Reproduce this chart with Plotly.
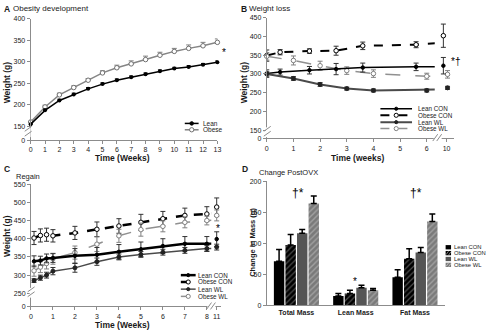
import plotly.graph_objects as go

# ---------------- data ----------------
# Panel A: obesity development
weeks_a = list(range(14))
lean_a = [155, 187, 210, 224, 237, 248, 257, 264, 271, 278, 284, 288, 293, 299]
lean_a_err = [2, 3, 3, 3, 3, 3, 3, 3, 3, 3, 3, 3, 3, 3]
obese_a = [160, 195, 223, 240, 257, 274, 286, 295, 305, 315, 324, 331, 337, 345]
obese_a_err = [3, 4, 4, 4, 4, 5, 6, 7, 8, 7, 7, 8, 8, 8]

# Panel B: weight loss (last point = week 10)
b_x_con = [0, 0.5, 1.6, 2.6, 3.6, 5.6, 10]
b_x_wl = [0, 1, 2, 3, 4, 6, 10]
b_lean_con = [301, 305, 310, 313, 317, 319, 322]
b_lean_con_err = [10, 8, 10, 15, 12, 10, 22]
b_obese_con = [349, 358, 361, 362, 375, 378, 402]
b_obese_con_err = [15, 7, 6, 12, 10, 8, 31]
b_lean_wl = [300, 288, 272, 261, 256, 256, 263]
b_lean_wl_err = [6, 5, 5, 4, 4, 4, 4]
b_obese_wl = [347, 336, 322, 309, 301, 294, 299]
b_obese_wl_err = [10, 12, 12, 10, 10, 8, 10]

# Panel C: regain (last point = week 11)
c_x = [0.14, 0.43, 0.71, 1, 2, 3, 4, 5, 6, 7, 8, 11]
c_lean_con = [338, 340, 346, 347, 353, 356, 364, 371, 380, 386, 386, 399]
c_lean_con_err = [15, 12, 12, 12, 20, 20, 20, 20, 20, 20, 20, 20]
c_obese_con = [402, 409, 411, 408, 416, 426, 435, 445, 455, 464, 468, 487]
c_obese_con_err = [18, 18, 18, 17, 18, 20, 20, 22, 20, 20, 20, 25]
c_lean_wl = [285, 293, 300, 311, 320, 337, 350, 357, 363, 368, 373, 377]
c_lean_wl_err = [5, 7, 8, 10, 12, 10, 8, 8, 8, 8, 8, 8]
c_obese_wl = [312, 322, 332, 345, 362, 385, 408, 425, 434, 445, 450, 464]
c_obese_wl_err = [15, 15, 15, 15, 18, 20, 18, 18, 15, 15, 12, 15]

# Panel D: change post OVX
d_categories = ["Total Mass", "Lean Mass", "Fat Mass"]
d_lean_con = [71, 15, 45]
d_lean_con_err = [19, 4, 12]
d_obese_con = [97, 19, 75]
d_obese_con_err = [17, 5, 16]
d_lean_wl = [116, 28, 85]
d_lean_wl_err = [6, 4, 8]
d_obese_wl = [164, 24, 135]
d_obese_wl_err = [12, 3, 12]

group_names = ["Lean CON", "Obese CON", "Lean WL", "Obese WL"]

# ---------------- helpers ----------------
W, H = 500, 331
FONT = "Liberation Sans, Arial, sans-serif"
AX = "#8c8c8c"
TXT = "#1a1a1a"


def dxd(a, b):
    return [a / W, b / W]


def dyd(top, bottom):
    return [1 - bottom / H, 1 - top / H]


annotations = []
shapes = []


def ann(text, x, y, size=8, bold=False, xanchor="left", yanchor="middle", angle=0, color=TXT):
    annotations.append(dict(
        text=f"<b>{text}</b>" if bold else text, x=x / W, y=1 - y / H,
        xref="paper", yref="paper", showarrow=False, xanchor=xanchor,
        yanchor=yanchor, textangle=angle, borderpad=0,
        font=dict(size=size, family=FONT, color=color)))


def seg(x0, y0, x1, y1, color, width=1, dash="solid"):
    shapes.append(dict(type="line", xref="paper", yref="paper",
                       x0=x0 / W, y0=1 - y0 / H, x1=x1 / W, y1=1 - y1 / H,
                       line=dict(color=color, width=width, dash=dash)))


def circ(cx, cy, r, fill, line):
    shapes.append(dict(type="circle", xref="paper", yref="paper",
                       x0=(cx - r) / W, x1=(cx + r) / W,
                       y0=1 - (cy + r) / H, y1=1 - (cy - r) / H,
                       fillcolor=fill, line=dict(color=line, width=1)))


def rect(x0, y0, x1, y1, fill):
    shapes.append(dict(type="rect", xref="paper", yref="paper",
                       x0=x0 / W, x1=x1 / W, y0=1 - y1 / H, y1=1 - y0 / H,
                       fillcolor=fill, line=dict(width=0)))


def brk_y(cx, cy):
    # "//" on a vertical axis
    rect(cx - 2, cy - 5, cx + 2, cy + 5, "white")
    seg(cx - 4, cy - 1, cx + 3, cy - 6, AX, 1)
    seg(cx - 4, cy + 4, cx + 3, cy - 1, AX, 1)


def brk_x(cx, cy):
    # "//" on a horizontal axis
    rect(cx - 4, cy - 2, cx + 4, cy + 2, "white")
    seg(cx - 5, cy + 3, cx, cy - 4, AX, 1)
    seg(cx - 1, cy + 3, cx + 4, cy - 4, AX, 1)


def axis(**kw):
    base = dict(showline=True, linecolor=AX, linewidth=1, ticks="outside",
                ticklen=3, tickwidth=1, tickcolor=AX, showgrid=False,
                zeroline=False, tickfont=dict(size=7, family=FONT, color=TXT))
    base.update(kw)
    return base


fig = go.Figure()

# ---------------- Panel A ----------------
fig.add_trace(go.Scatter(
    x=weeks_a, y=obese_a, mode="lines+markers", xaxis="x", yaxis="y",
    line=dict(color="#858585", width=1.5),
    marker=dict(symbol="circle", size=4.5, color="white", line=dict(color="#707070", width=1)),
    error_y=dict(type="data", array=obese_a_err, arrayminus=[0] * len(obese_a), symmetric=False,
                 color="#808080", thickness=1, width=2.5),
    cliponaxis=False, showlegend=False))
fig.add_trace(go.Scatter(
    x=weeks_a, y=lean_a, mode="lines+markers", xaxis="x", yaxis="y",
    line=dict(color="black", width=1.5),
    marker=dict(symbol="circle", size=4, color="black"),
    error_y=dict(type="data", array=lean_a_err, arrayminus=[0] * len(lean_a), symmetric=False,
                 color="black", thickness=1, width=2),
    cliponaxis=False, showlegend=False))

# ---------------- Panel B / C line series ----------------
styles = {
    "Lean CON": dict(lc="black", dash="solid", mfill="black", mline="black", ms=3.5),
    "Obese CON": dict(lc="black", dash="dash", mfill="white", mline="black", ms=4.5),
    "Lean WL": dict(lc="#4a4a4a", dash="solid", mfill="#222222", mline="#222222", ms=4),
    "Obese WL": dict(lc="#909090", dash="longdash", mfill="white", mline="#808080", ms=4.5),
}
width_b = {"Lean CON": 1.5, "Obese CON": 2, "Lean WL": 2, "Obese WL": 1.5}
width_c = {"Lean CON": 2.5, "Obese CON": 2.5, "Lean WL": 1.5, "Obese WL": 1.5}
dodge_b = {"Lean CON": -0.14, "Obese CON": -0.14, "Lean WL": 0.04, "Obese WL": 0.04}

b_series = [
    ("Obese CON", b_x_con, b_obese_con, b_obese_con_err),
    ("Obese WL", b_x_wl, b_obese_wl, b_obese_wl_err),
    ("Lean CON", b_x_con, b_lean_con, b_lean_con_err),
    ("Lean WL", b_x_wl, b_lean_wl, b_lean_wl_err),
]
c_series = [
    ("Obese CON", c_x, c_obese_con, c_obese_con_err),
    ("Obese WL", c_x, c_obese_wl, c_obese_wl_err),
    ("Lean CON", c_x, c_lean_con, c_lean_con_err),
    ("Lean WL", c_x, c_lean_wl, c_lean_wl_err),
]


def add_broken(series, xa_main, xa_brk, ya, widths, dodge):
    for name, xs, ys, es in series:
        st = styles[name]
        ecol = "#808080" if name == "Obese WL" else "#333333"
        # line through all points, clipped at the axis break
        fig.add_trace(go.Scatter(x=xs, y=ys, mode="lines", xaxis=xa_main, yaxis=ya,
                                 line=dict(color=st["lc"], width=widths[name], dash=st["dash"]),
                                 showlegend=False, hoverinfo="skip"))
        mk = dict(symbol="circle", size=st["ms"], color=st["mfill"],
                  line=dict(color=st["mline"], width=1))
        fig.add_trace(go.Scatter(x=xs[:-1], y=ys[:-1], mode="markers", xaxis=xa_main, yaxis=ya,
                                 marker=mk, cliponaxis=False, showlegend=False,
                                 error_y=dict(type="data", array=es[:-1], color=ecol,
                                              thickness=1, width=2.5)))
        fig.add_trace(go.Scatter(x=[xs[-1] + dodge.get(name, 0)], y=ys[-1:], mode="markers",
                                 xaxis=xa_brk, yaxis=ya, marker=mk, cliponaxis=False,
                                 showlegend=False,
                                 error_y=dict(type="data", array=es[-1:], color=ecol,
                                              thickness=1, width=2.5)))


add_broken(b_series, "x2", "x3", "y2", width_b, dodge_b)
add_broken(c_series, "x4", "x5", "y3", width_c, {})

# ---------------- Panel D ----------------
d_specs = [
    ("Lean CON", d_lean_con, d_lean_con_err, dict(color="black")),
    ("Obese CON", d_obese_con, d_obese_con_err,
     dict(color="black", pattern=dict(shape="/", fgcolor="#9a9a9a", bgcolor="black",
                                       fillmode="overlay", size=4, solidity=0.3))),
    ("Lean WL", d_lean_wl, d_lean_wl_err, dict(color="#555555")),
    ("Obese WL", d_obese_wl, d_obese_wl_err,
     dict(color="#7a7a7a", pattern=dict(shape="/", fgcolor="#c8c8c8", bgcolor="#7a7a7a",
                                         fillmode="overlay", size=4, solidity=0.35))),
]
for name, vals, errs, mk in d_specs:
    fig.add_trace(go.Bar(x=d_categories, y=vals, name=name, xaxis="x6", yaxis="y4",
                         marker=dict(line=dict(width=0), **mk), showlegend=False,
                         error_y=dict(type="data", array=errs, arrayminus=[0] * len(errs),
                                      symmetric=False, color="black", thickness=1.5, width=3)))

# ---------------- axes ----------------
fig.update_layout(
    xaxis=axis(domain=dxd(29, 218), range=[0, 13], tickvals=weeks_a, anchor="y"),
    yaxis=axis(domain=dyd(15, 139), range=[118, 400], anchor="x",
               tickvals=[118, 150, 200, 250, 300, 350, 400],
               ticktext=["0", "150", "200", "250", "300", "350", "400"]),
    xaxis2=axis(domain=dxd(268, 438), range=[0, 6.3], tickvals=[0, 1, 2, 3, 4, 5, 6], anchor="y2"),
    xaxis3=axis(domain=dxd(443, 457), range=[9.7, 10.3], tickvals=[10], anchor="y2"),
    yaxis2=axis(domain=dyd(14, 137), range=[129, 450], anchor="x2",
                tickvals=[129, 150, 200, 250, 300, 350, 400, 450],
                ticktext=["0", "150", "200", "250", "300", "350", "400", "450"]),
    xaxis4=axis(domain=dxd(29.3, 211.8), range=[0, 8.2], tickvals=list(range(9)), anchor="y3"),
    xaxis5=axis(domain=dxd(213.3, 221.3), range=[10.6, 11.4], tickvals=[11], anchor="y3"),
    yaxis3=axis(domain=dyd(184, 309), range=[214, 550], anchor="x4",
                tickvals=[214, 250, 300, 350, 400, 450, 500, 550],
                ticktext=["0", "250", "300", "350", "400", "450", "500", "550"]),
    xaxis6=axis(domain=dxd(268, 448), anchor="y4", ticks="",
                tickfont=dict(size=7, family=FONT, color=TXT, weight="bold")),
    yaxis4=axis(domain=dyd(181, 307.7), range=[0, 200], tickvals=[0, 50, 100, 150, 200], anchor="x6"),
    barmode="group", bargap=0.22, bargroupgap=0.1,
)

# ---------------- text ----------------
ann("A", 1.5, 5, 8.5, True)
ann("Obesity development", 10, 5, 8)
ann("B", 240.5, 5, 8.5, True)
ann("Weight loss", 249, 5, 8)
ann("C", 1.5, 168.5, 8.5, True)
ann("Regain", 13, 176.5, 7.5)
ann("D", 241.5, 168.5, 8.5, True)
ann("Change PostOVX", 259, 172, 7.5)

ann("Weight (g)", 5, 80, 8.5, True, "center", "middle", -90)
ann("Weight (g)", 245, 80, 8.5, True, "center", "middle", -90)
ann("Weight (g)", 5, 237, 8.5, True, "center", "middle", -90)
ann("Change in Mass (g)", 254, 243, 7.5, True, "center", "middle", -90)
ann("Time (Weeks)", 122, 157, 8.5, True, "center", "middle")
ann("Time (weeks)", 360, 157, 8.5, True, "center", "middle")
ann("Time (Weeks)", 122, 327.5, 8.5, True, "center", "middle")

ann("*", 225, 50, 10, False, "center", "middle", 0, "black")
ann("*†", 459, 59, 10, False, "center", "middle", 0, "black")
ann("*", 219, 229, 10, False, "center", "middle", 0, "black")
ann("†*", 300, 193, 12, False, "center", "middle", 0, "black")
ann("*", 357, 284, 10, False, "center", "middle", 0, "black")
ann("†*", 419, 193, 12, False, "center", "middle", 0, "black")

# ---------------- break marks ----------------
brk_y(27, 131)
brk_y(269, 131)
brk_y(30, 295)
brk_x(441, 137)
brk_x(212, 309)

# ---------------- manual legends ----------------
# A
seg(185, 122, 199, 122, "black", 1.5)
circ(192, 122, 1.8, "black", "black")
ann("Lean", 202, 122, 6.5)
seg(185, 128.5, 199, 128.5, "#808080", 1.5)
circ(192, 128.5, 2.2, "white", "#707070")
ann("Obese", 202, 128.5, 6.5)


def line_legend(x0, x1, xt, rows, widths, size):
    for name, y in zip(group_names, rows):
        st = styles[name]
        seg(x0, y, x1, y, st["lc"], widths[name], "dash" if st["dash"] != "solid" else "solid")
        r = 1.6 if st["mfill"] != "white" else 2.1
        circ((x0 + x1) / 2, y, r, st["mfill"], st["mline"])
        ann(name, xt, y, size)


line_legend(383, 415, 420, [107, 113.7, 120.7, 127.3], width_b, 6.3)
line_legend(181, 196, 197.5, [277, 284, 291.3, 298.7], width_c, 6.3)

# D legend swatches
d_rows = [248.5, 254.5, 260.5, 266.5]
sw_cols = ["black", "black", "#555555", "#7a7a7a"]
for i, (name, y) in enumerate(zip(group_names, d_rows)):
    rect(449, y - 2.2, 454.5, y + 2.2, sw_cols[i])
    if i in (1, 3):
        hc = "#9a9a9a" if i == 1 else "#c8c8c8"
        seg(449.5, y + 1.5, 452, y - 2, hc, 0.8)
        seg(452, y + 2, 454.5, y - 1.5, hc, 0.8)
    ann(name, 456, y, 5.8)

fig.update_layout(
    width=W, height=H, margin=dict(l=0, r=0, t=0, b=0),
    paper_bgcolor="white", plot_bgcolor="white",
    annotations=annotations, shapes=shapes, showlegend=False,
    font=dict(family=FONT, color=TXT),
)

fig.write_html("out.html")
